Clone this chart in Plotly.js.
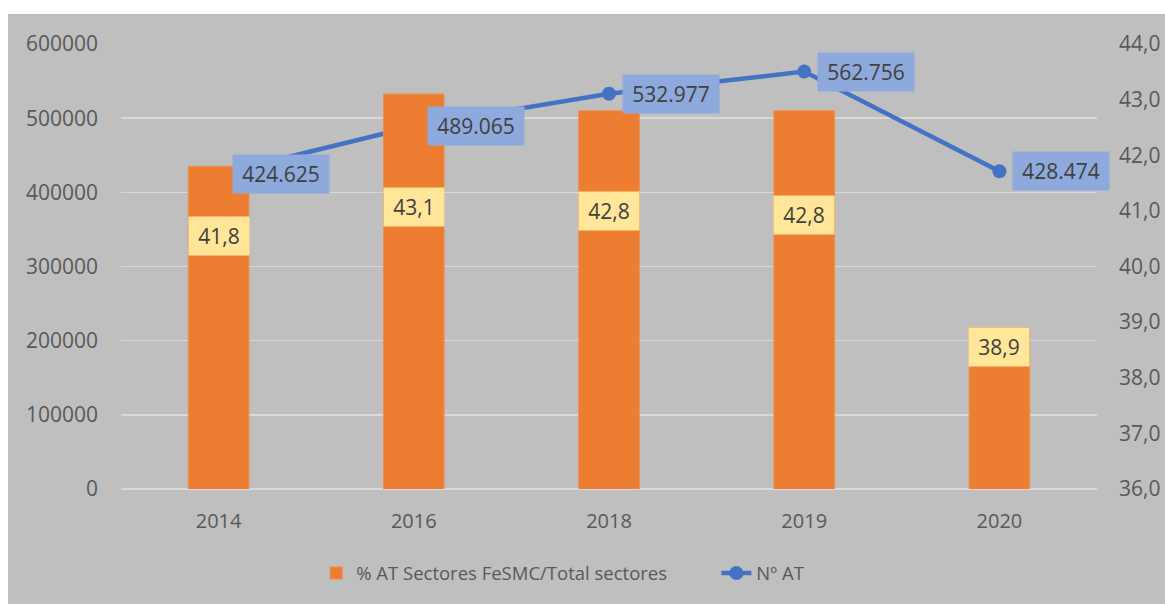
<!DOCTYPE html>
<html>
<head>
<meta charset="utf-8">
<script src="https://cdn.plot.ly/plotly-3.0.1.min.js"></script>
<style>
html,body{margin:0;padding:0;background:#ffffff;width:1165px;height:604px;overflow:hidden;}
#chart{position:absolute;left:8px;top:14px;width:1157px;height:590px;}
</style>
</head>
<body>
<div id="chart"></div>
<script>
const years = ["2014", "2016", "2018", "2019", "2020"];
const pctAT = [41.8, 43.1, 42.8, 42.8, 38.9];
const numAT = [424625, 489065, 532977, 562756, 428474];
const barLabelShift = [-70, -113, -100, -104, -19];
const barName = "% AT Sectores FeSMC/Total sectores";
const lineName = "Nº AT";

function fmtThousands(v){
  return String(v).replace(/\B(?=(\d{3})+(?!\d))/g, ".");
}
function fmtDec(v){
  return v.toFixed(1).replace(".", ",");
}

const FONT = "Open Sans, Noto Sans, sans-serif";

const traces = [
  {
    type: "bar", name: barName, x: years, y: pctAT, yaxis: "y2", legend: "legend",
    marker: {color: "#ED7D31", line: {color: "#F08C4A", width: 1}},
    hoverinfo: "skip"
  },
  {
    type: "scatter", mode: "lines+markers", name: lineName, x: years, y: numAT, yaxis: "y", legend: "legend2",
    line: {color: "#4472C4", width: 4.5},
    marker: {color: "#4472C4", size: 14},
    hoverinfo: "skip"
  }
];

const annotations = [];
years.forEach((yr, i) => {
  annotations.push({
    x: i, y: pctAT[i], xref: "x", yref: "y2", yshift: barLabelShift[i],
    text: fmtDec(pctAT[i]), showarrow: false,
    bgcolor: "#FFE699", width: 56, height: 34, borderpad: 2,
    font: {family: FONT, size: 21, color: "#404040"}
  });
  annotations.push({
    x: i, y: numAT[i], xref: "x", yref: "y", xshift: 62,
    text: fmtThousands(numAT[i]), showarrow: false,
    bgcolor: "#8EA9DB", width: 92, height: 34, borderpad: 2,
    font: {family: FONT, size: 21, color: "#404040"}
  });
});

const legendCommon = {orientation: "h", y: -0.19, yanchor: "middle", xanchor: "left",
           font: {family: FONT, size: 18.5, color: "#595959"}, bgcolor: "rgba(0,0,0,0)"};

const layout = {
  width: 1157, height: 590,
  paper_bgcolor: "#BFBFBF", plot_bgcolor: "#BFBFBF",
  margin: {l: 113, r: 68, t: 30, b: 115, autoexpand: false},
  separators: ",.",
  font: {family: FONT, color: "#595959", size: 19},
  bargap: 0.69,
  showlegend: true,
  legend: Object.assign({x: 0.2}, legendCommon),
  legend2: Object.assign({x: 0.61}, legendCommon),
  xaxis: {type: "category", range: [-0.5, years.length - 0.5], autorange: false,
          showgrid: false, zeroline: false, showline: false, ticks: "",
          automargin: false, ticklabelstandoff: 18, tickfont: {size: 20, color: "#595959"}},
  yaxis: {range: [0, 600000], dtick: 100000, tickformat: "d", showgrid: true, automargin: false,
          gridcolor: "#D9D9D9", gridwidth: 1.5, zeroline: true, zerolinecolor: "#D9D9D9", zerolinewidth: 1.5,
          showline: false, ticks: "", ticklabelstandoff: 22, tickfont: {size: 21, color: "#595959"}},
  yaxis2: {range: [36, 44], dtick: 1, tickformat: ".1f", overlaying: "y", side: "right", automargin: false,
           showgrid: false, zeroline: false, showline: false, ticks: "", ticklabelstandoff: 21,
           tickfont: {size: 21, color: "#595959"}},
  annotations: annotations
};

Plotly.newPlot("chart", traces, layout, {displayModeBar: false, staticPlot: true});
</script>
</body>
</html>
